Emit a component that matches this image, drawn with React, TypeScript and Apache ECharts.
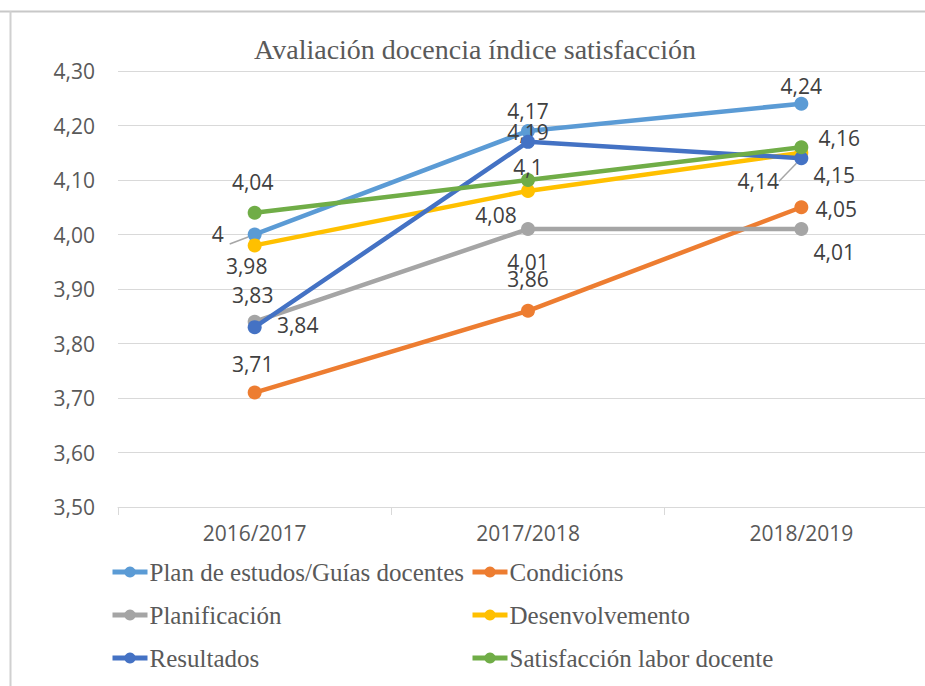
import React, { useEffect, useRef } from "react";
import * as echarts from "echarts";

const categories = ["2016/2017", "2017/2018", "2018/2019"];
const seriesNames = [
  "Plan de estudos/Guías docentes",
  "Condicións",
  "Planificación",
  "Desenvolvemento",
  "Resultados",
  "Satisfacción labor docente",
];
const planValues = [4.0, 4.19, 4.24];
const condicionsValues = [3.71, 3.86, 4.05];
const planificacionValues = [3.84, 4.01, 4.01];
const desenvolvementoValues = [3.98, 4.08, 4.15];
const resultadosValues = [3.83, 4.17, 4.14];
const satisfaccionValues = [4.04, 4.1, 4.16];
const colors = ["#5B9BD5", "#ED7D31", "#A5A5A5", "#FFC000", "#4472C4", "#70AD47"];

// label offsets (styling) per series/point
const labelOffsets: number[][][] = [
  [[-37, -1], [0, 1], [0, -18]],
  [[-2, -29], [0, -32], [35, 2]],
  [[43, 3], [0, 33], [33, 23]],
  [[-8, 21], [-32, 24], [33, 22]],
  [[-2, -32], [0, -31], [-43, 23]],
  [[-2, -31], [0, -13], [38, -9]],
];
const leaderLines: boolean[][] = [
  [true, false, false],
  [false, false, false],
  [false, false, false],
  [false, false, false],
  [false, false, true],
  [false, false, false],
];

const allValues = [
  planValues,
  condicionsValues,
  planificacionValues,
  desenvolvementoValues,
  resultadosValues,
  satisfaccionValues,
];

const fmt = (v: number) => String(v).replace(".", ",");

export default function App() {
  const ref = useRef<HTMLDivElement>(null);
  useEffect(() => {
    if (!ref.current) return;
    const chart = echarts.init(ref.current, null, { renderer: "svg" });
    const legendPos = [
      [110, 559],
      [470, 559],
      [110, 602],
      [470, 602],
      [110, 645],
      [470, 645],
    ];
    const option: any = {
      animation: false,
      backgroundColor: "#ffffff",
      graphic: [
        {
          type: "line",
          shape: { x1: 0, y1: 11.5, x2: 940, y2: 11.5 },
          style: { stroke: "#c8c8c8", lineWidth: 2 },
        },
        {
          type: "line",
          shape: { x1: 10.5, y1: 11, x2: 10.5, y2: 686 },
          style: { stroke: "#d0d0d0", lineWidth: 2 },
        },
        {
          type: "text",
          x: 475,
          y: 49,
          style: {
            text: "Avaliación docencia índice satisfacción",
            font: '28px "Liberation Serif"',
            fill: "#595959",
            textAlign: "center",
            textVerticalAlign: "middle",
          },
        },
      ],
      grid: { left: 118, top: 71, width: 820, bottom: 179, containLabel: false },
      legend: seriesNames.map((n, i) => ({
        data: [n],
        left: legendPos[i][0],
        top: legendPos[i][1],
        padding: 0,
        itemWidth: 35,
        itemHeight: 14,
        itemGap: 2,
        lineStyle: { width: 5 },
        textStyle: {
          fontFamily: "Liberation Serif",
          fontSize: 25,
          color: "#595959",
          lineHeight: 26,
          padding: [0, 0, 0, -3],
        },
      })),
      xAxis: {
        type: "category",
        data: categories,
        boundaryGap: true,
        axisLine: { show: true, lineStyle: { color: "#d9d9d9", width: 1 } },
        axisTick: { show: true, length: 8, lineStyle: { color: "#d9d9d9" } },
        axisLabel: {
          color: "#595959",
          fontFamily: "Open Sans",
          fontSize: 21,
          margin: 15,
        },
      },
      yAxis: {
        type: "value",
        min: 3.5,
        max: 4.3,
        interval: 0.1,
        axisLine: { show: false },
        axisTick: { show: false },
        splitLine: { lineStyle: { color: "#d9d9d9", width: 1 } },
        axisLabel: {
          color: "#595959",
          fontFamily: "Open Sans",
          fontSize: 21,
          margin: 23,
          formatter: (v: number) => v.toFixed(2).replace(".", ","),
        },
      },
      series: seriesNames.map((n, i) => ({
        name: n,
        type: "line",
        color: colors[i],
        symbol: "circle",
        symbolSize: 14,
        lineStyle: { width: 4.5, color: colors[i] },
        itemStyle: { color: colors[i] },
        z: 2 + i,
        data: allValues[i].map((v, j) => ({
          value: v,
          label: {
            show: true,
            position: "inside",
            offset: labelOffsets[i][j],
            formatter: () => fmt(v),
            color: "#404040",
            fontFamily: "Open Sans",
            fontSize: 21,
          },
          labelLine: leaderLines[i][j]
            ? { show: true, lineStyle: { color: "#a6a6a6", width: 1.5 } }
            : { show: false },
        })),
      })),
    };
    chart.setOption(option);
    return () => chart.dispose();
  }, []);
  return (
    <div
      style={{
        position: "absolute",
        left: 0,
        top: 0,
        width: 925,
        height: 686,
        overflow: "hidden",
      }}
    >
      <div ref={ref} style={{ width: 940, height: 686 }} />
    </div>
  );
}
